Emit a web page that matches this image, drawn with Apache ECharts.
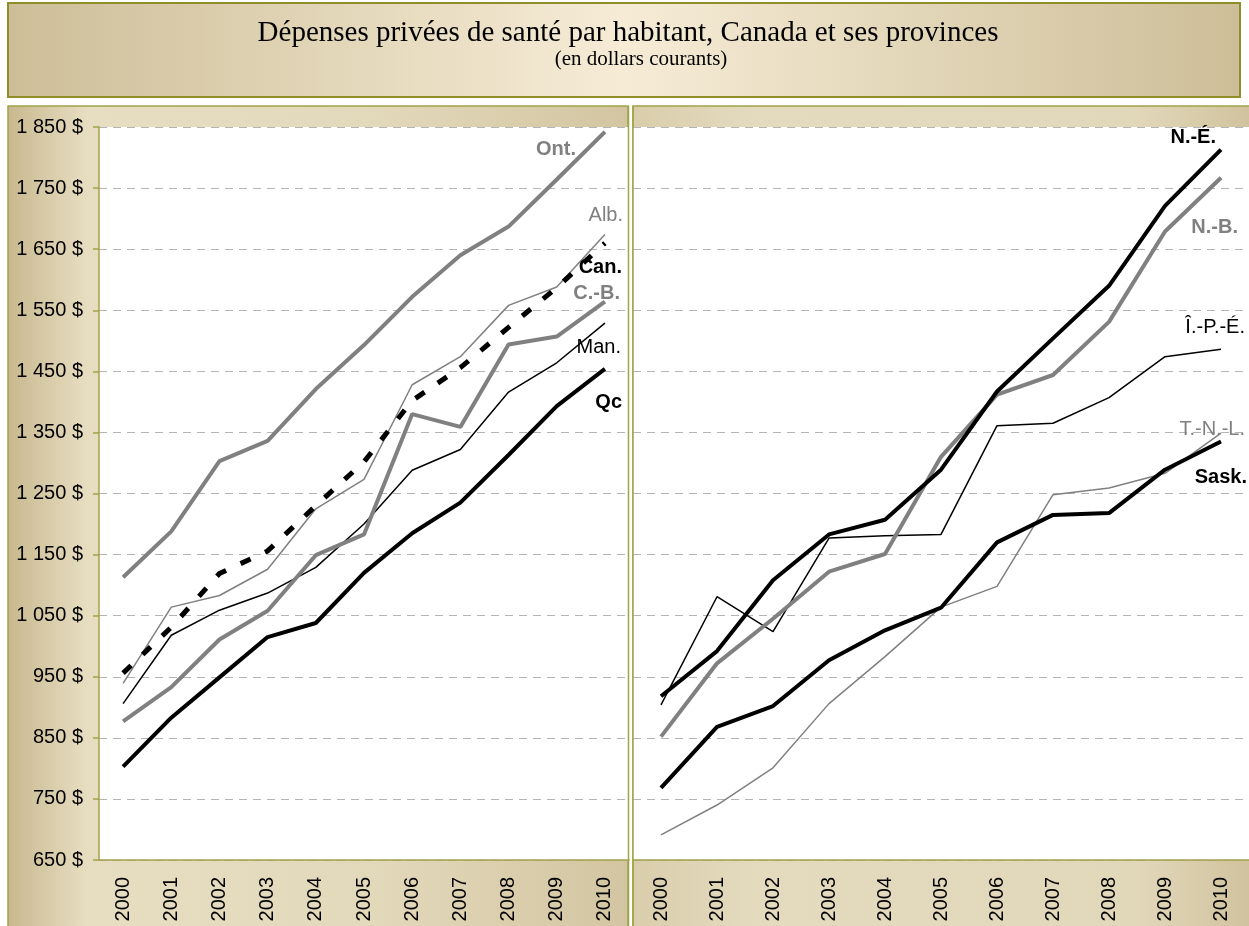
<!DOCTYPE html>
<html>
<head>
<meta charset="utf-8">
<script src="https://cdn.jsdelivr.net/npm/echarts@6/dist/echarts.min.js"></script>
<style>
  html, body { margin: 0; padding: 0; background: #fff; }
  #chart { width: 1249px; height: 926px; }
</style>
</head>
<body>
<div id="chart"></div>
<script>
// années
var years = ['2000', '2001', '2002', '2003', '2004', '2005', '2006', '2007', '2008', '2009', '2010'];

// panneau gauche
var ont = [1113, 1188, 1303, 1336, 1421, 1493, 1572, 1640, 1687, 1764, 1842];
var alb = [939, 1064, 1083, 1126, 1225, 1273, 1428, 1474, 1558, 1588, 1674];
var can = [956, 1031, 1119, 1156, 1230, 1302, 1402, 1456, 1522, 1587, 1660];
var cb = [877, 933, 1011, 1058, 1149, 1183, 1380, 1359, 1494, 1507, 1564];
var man = [906, 1018, 1059, 1087, 1129, 1200, 1288, 1322, 1416, 1464, 1529];
var qc = [803, 883, 949, 1015, 1038, 1120, 1185, 1235, 1313, 1393, 1454];

// panneau droit
var ne = [918, 992, 1108, 1183, 1207, 1289, 1417, 1504, 1590, 1721, 1813];
var nb = [852, 972, 1045, 1122, 1151, 1310, 1412, 1444, 1531, 1679, 1767];
var ipe = [904, 1081, 1024, 1177, 1181, 1183, 1361, 1365, 1407, 1474, 1486];
var tnl = [691, 740, 801, 906, 983, 1064, 1098, 1248, 1259, 1283, 1349];
var sask = [768, 868, 902, 977, 1026, 1063, 1170, 1215, 1218, 1289, 1335];

var yMin = 650, yMax = 1850, yStep = 100;

var olive = '#a3a348';
var gray = '#808080';
var font = "'Liberation Sans', Arial, sans-serif";

function fmt(v) {
  if (v >= 1000) {
    var r = String(v % 1000);
    while (r.length < 3) r = '0' + r;
    return Math.floor(v / 1000) + ' ' + r + ' $';
  }
  return v + ' $';
}

function line(name, data, idx, color, width, dashed) {
  return {
    name: name,
    type: 'line',
    xAxisIndex: idx,
    yAxisIndex: idx,
    data: data,
    symbol: 'none',
    silent: true,
    lineStyle: {
      color: color,
      width: width,
      type: dashed ? [11, 16] : 'solid',
      cap: 'butt'
    }
  };
}

function lab(text, x, y, color, bold) {
  return {
    type: 'text',
    z: 100,
    x: x,
    y: y,
    style: {
      text: text,
      fill: color,
      font: (bold ? 'bold ' : '') + '20px ' + font,
      align: 'right',
      verticalAlign: 'middle'
    }
  };
}

function vline(x) {
  return {
    type: 'line', z: 50,
    shape: { x1: x, y1: 106, x2: x, y2: 926 },
    style: { stroke: olive, lineWidth: 1.5 }
  };
}

var panelFill = function (stops) {
  return { type: 'linear', x: 0, y: 0, x2: 1, y2: 0, colorStops: stops };
};

var chart = echarts.init(document.getElementById('chart'));

var xAxisBase = {
  type: 'category',
  data: years,
  boundaryGap: true,
  axisLine: { lineStyle: { color: olive, width: 1.5 } },
  axisTick: { show: false },
  axisLabel: { rotate: 90, fontSize: 20, fontFamily: font, color: '#000', margin: 17 }
};

var splitLine = { show: true, lineStyle: { color: '#b4b4b4', type: [8, 6], width: 1 } };

var option = {
  animation: false,
  graphic: [
    // cadre du titre
    {
      type: 'rect', z: -10,
      shape: { x: 8, y: 3, width: 1232, height: 94 },
      style: {
        fill: panelFill([
          { offset: 0, color: '#cdbe98' },
          { offset: 0.5, color: '#f6ecd6' },
          { offset: 1, color: '#cdbe98' }
        ]),
        stroke: '#8f8f2a', lineWidth: 2
      }
    },
    {
      type: 'text', z: 100, x: 628, y: 33,
      style: {
        text: 'Dépenses privées de santé par habitant, Canada et ses provinces',
        font: "29px 'Liberation Serif', 'Times New Roman', serif",
        fill: '#000', align: 'center', verticalAlign: 'middle'
      }
    },
    {
      type: 'text', z: 100, x: 641, y: 59,
      style: {
        text: '(en dollars courants)',
        font: "21px 'Liberation Serif', 'Times New Roman', serif",
        fill: '#000', align: 'center', verticalAlign: 'middle'
      }
    },
    // panneaux
    {
      type: 'rect', z: -10,
      shape: { x: 8, y: 106, width: 620, height: 830 },
      style: {
        fill: panelFill([
          { offset: 0, color: '#c8b88e' },
          { offset: 0.13, color: '#e7dec2' },
          { offset: 0.6, color: '#e2d8ba' },
          { offset: 1, color: '#d3c5a1' }
        ]),
        stroke: olive, lineWidth: 1.5
      }
    },
    {
      type: 'rect', z: -10,
      shape: { x: 633, y: 106, width: 630, height: 830 },
      style: {
        fill: panelFill([
          { offset: 0, color: '#d9cdab' },
          { offset: 0.2, color: '#e4dbbf' },
          { offset: 0.8, color: '#e1d7b9' },
          { offset: 1, color: '#cfc09a' }
        ]),
        stroke: olive, lineWidth: 1.5
      }
    },
    vline(628.5),
    vline(633),
    // étiquettes, panneau gauche
    lab('Ont.', 576, 149, gray, true),
    lab('Alb.', 623, 215, gray, false),
    lab('Can.', 622, 267, '#000', true),
    lab('C.-B.', 620, 293, gray, true),
    lab('Man.', 621, 347, '#000', false),
    lab('Qc', 622, 402, '#000', true),
    // étiquettes, panneau droit
    lab('N.-É.', 1216, 137, '#000', true),
    lab('N.-B.', 1238, 227, gray, true),
    lab('Î.-P.-É.', 1245, 327, '#000', false),
    lab('T.-N.-L.', 1245, 429, gray, false),
    lab('Sask.', 1247, 477, '#000', true)
  ],
  grid: [
    { left: 99, top: 127, width: 530, height: 733, show: true, backgroundColor: '#fff', borderWidth: 0 },
    { left: 633, top: 127, width: 623, height: 733, show: true, backgroundColor: '#fff', borderWidth: 0 }
  ],
  xAxis: [
    Object.assign({ gridIndex: 0 }, xAxisBase),
    Object.assign({ gridIndex: 1 }, xAxisBase)
  ],
  yAxis: [
    {
      gridIndex: 0, type: 'value', min: yMin, max: yMax, interval: yStep,
      axisLine: { show: true, lineStyle: { color: olive, width: 1.5 } },
      axisTick: { show: true, length: 6, lineStyle: { color: olive, width: 1.5 } },
      axisLabel: { formatter: fmt, fontSize: 20, fontFamily: font, color: '#000', margin: 16 },
      splitLine: splitLine
    },
    {
      gridIndex: 1, type: 'value', min: yMin, max: yMax, interval: yStep,
      axisLine: { show: false },
      axisTick: { show: false },
      axisLabel: { show: false },
      splitLine: splitLine
    }
  ],
  series: [
    line('Alb.', alb, 0, gray, 1.5),
    line('Man.', man, 0, '#000', 1.5),
    line('Ont.', ont, 0, gray, 4),
    line('C.-B.', cb, 0, gray, 4),
    line('Qc', qc, 0, '#000', 4),
    line('Can.', can, 0, '#000', 5, true),

    line('T.-N.-L.', tnl, 1, gray, 1.5),
    line('Î.-P.-É.', ipe, 1, '#000', 1.5),
    line('N.-B.', nb, 1, gray, 4),
    line('Sask.', sask, 1, '#000', 4),
    line('N.-É.', ne, 1, '#000', 4)
  ]
};

chart.setOption(option);
</script>
</body>
</html>
